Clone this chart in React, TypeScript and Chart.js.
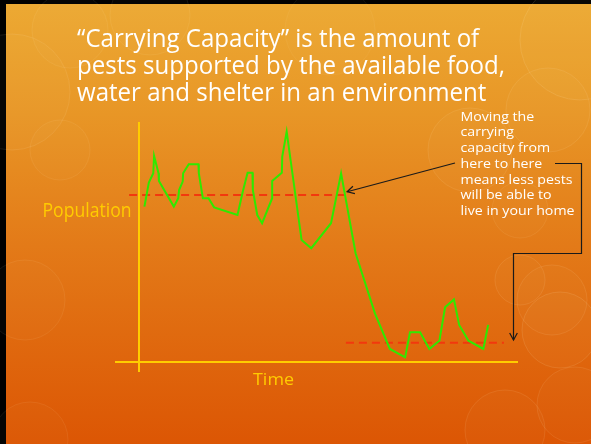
import React, { useEffect, useRef } from "react";
import { Chart, registerables } from "chart.js";

Chart.register(...registerables);

// ---- data ----
const timeValues: number[] = [
  1.3, 2.4, 3.5, 3.7, 4.8, 4.9, 8.6, 9.7, 9.9, 10.8, 10.9, 12.3, 14.7, 14.8, 15.8, 17.2, 18.6,
  24.4, 25.7, 26.9, 28.1, 28.2, 29.3, 30.5, 33.0, 33.0, 35.4, 35.5, 36.6, 40.3, 42.7, 47.6,
  50.1, 53.7, 58.5, 62.2, 66.0, 67.2, 69.7, 72.0, 74.5, 75.9, 78.1, 79.4, 81.7, 85.4, 86.6,
];
const populationValues: number[] = [
  64.8, 74.8, 78.7, 85.9, 78.7, 75.5, 64.8, 68.3, 71.7, 75.2, 78.7, 82.4, 82.4, 78.7, 68.3, 68.3, 64.5,
  61.3, 71.0, 78.9, 78.9, 71.7, 61.3, 57.9, 68.3, 75.5, 78.9, 85.6, 96.0, 50.9, 47.5, 57.9,
  78.7, 45.4, 20.4, 5.6, 2.1, 12.5, 12.5, 5.6, 9.0, 22.9, 26.2, 15.6, 9.0, 5.6, 15.6,
];
const oldCapacity = { from: -2.5, to: 51.1, level: 69.6 };
const newCapacity = { from: 51.3, to: 90.5, level: 8.2 };

const titleLines = [
  "\u201cCarrying Capacity\u201d is the amount of",
  "pests supported by the available food,",
  "water and shelter in an environment",
];
const noteLines = [
  "Moving the",
  "carrying",
  "capacity from",
  "here to here",
  "means less pests",
  "will be able to",
  "live in your home",
];
const yAxisLabel = "Population";
const xAxisLabel = "Time";
// arrow targets in data units
const arrowToOld = { x: 51.6, y: 71.0 };
const arrowToNew = { x: 92.8, y: 9.3 };

const bokeh: [number, number, number, number][] = [
  [12, 92, 58, 0.025],
  [70, 30, 38, 0.02],
  [150, 15, 40, 0.02],
  [580, 40, 60, 0.03],
  [548, 110, 42, 0.025],
  [470, 150, 42, 0.025],
  [520, 210, 28, 0.02],
  [560, 330, 38, 0.03],
  [520, 280, 25, 0.025],
  [552, 300, 35, 0.025],
  [575, 405, 38, 0.025],
  [505, 430, 40, 0.025],
  [25, 300, 40, 0.02],
  [30, 440, 38, 0.02],
  [60, 150, 30, 0.02],
  [330, 30, 45, 0.015],
];

const FONT = "'Open Sans', 'DejaVu Sans', sans-serif";

// draws text at a given font size, horizontally scaled so that the reference line reaches refWidth
function scaleFor(ctx: CanvasRenderingContext2D, refText: string, size: number, refWidth: number) {
  ctx.font = `${size}px ${FONT}`;
  return refWidth / ctx.measureText(refText).width;
}
function drawScaled(
  ctx: CanvasRenderingContext2D,
  text: string,
  x: number,
  y: number,
  size: number,
  sx: number,
  align: "left" | "right" = "left"
) {
  ctx.save();
  ctx.font = `${size}px ${FONT}`;
  ctx.textAlign = align;
  ctx.textBaseline = "alphabetic";
  ctx.translate(x, y);
  ctx.scale(sx, 1);
  ctx.fillText(text, 0, 0);
  ctx.restore();
}

function arrowHead(ctx: CanvasRenderingContext2D, x: number, y: number, ang: number, len: number) {
  ctx.beginPath();
  ctx.moveTo(x + Math.cos(ang + Math.PI - 0.5) * len, y + Math.sin(ang + Math.PI - 0.5) * len);
  ctx.lineTo(x, y);
  ctx.lineTo(x + Math.cos(ang + Math.PI + 0.5) * len, y + Math.sin(ang + Math.PI + 0.5) * len);
  ctx.stroke();
}

const slidePlugin = {
  id: "slide",
  beforeDraw(chart: any) {
    const ctx: CanvasRenderingContext2D = chart.ctx;
    const W = chart.width;
    const H = chart.height;
    ctx.save();
    ctx.fillStyle = "#000";
    ctx.fillRect(0, 0, W, H);
    const g = ctx.createLinearGradient(0, 4, 0, H);
    g.addColorStop(0, "#ECA933");
    g.addColorStop(0.25, "#E89626");
    g.addColorStop(0.55, "#E37A18");
    g.addColorStop(1, "#DC5604");
    ctx.fillStyle = g;
    ctx.fillRect(6, 4, W - 6, H - 4);
    for (const [cx, cy, r, a] of bokeh) {
      ctx.beginPath();
      ctx.arc(cx, cy, r, 0, Math.PI * 2);
      ctx.fillStyle = `rgba(255,240,200,${a})`;
      ctx.fill();
      ctx.strokeStyle = `rgba(255,240,200,${a * 4})`;
      ctx.lineWidth = 1;
      ctx.stroke();
    }
    ctx.restore();
  },
  beforeDatasetsDraw(chart: any) {
    const ctx: CanvasRenderingContext2D = chart.ctx;
    const xs = chart.scales.x;
    const ys = chart.scales.y;
    ctx.save();
    ctx.strokeStyle = "#FFCC00";
    ctx.lineWidth = 2;
    ctx.beginPath();
    const x0 = Math.round(xs.getPixelForValue(0));
    const y0 = Math.round(ys.getPixelForValue(0));
    ctx.moveTo(x0, ys.top);
    ctx.lineTo(x0, ys.bottom);
    ctx.moveTo(xs.left, y0);
    ctx.lineTo(xs.right, y0);
    ctx.stroke();
    ctx.restore();
  },
  afterDraw(chart: any) {
    const ctx: CanvasRenderingContext2D = chart.ctx;
    const xs = chart.scales.x;
    const ys = chart.scales.y;
    ctx.save();
    // title
    ctx.fillStyle = "#FFFFFF";
    const tSize = 25;
    const tsx = scaleFor(ctx, titleLines[1], tSize, 428);
    titleLines.forEach((l, i) => drawScaled(ctx, l, 77, 47 + i * 27, tSize, tsx));

    // axis labels
    ctx.fillStyle = "#FFCC00";
    const pSize = 20;
    drawScaled(ctx, yAxisLabel, 131.5, 217, pSize, scaleFor(ctx, yAxisLabel, pSize, 89), "right");
    const xSize = 17;
    drawScaled(ctx, xAxisLabel, 253, 384.5, xSize, scaleFor(ctx, xAxisLabel, xSize, 41));

    // note text
    ctx.fillStyle = "#FFFFFF";
    const nSize = 12.5;
    const nsx = scaleFor(ctx, noteLines[6], nSize, 114);
    noteLines.forEach((l, i) => drawScaled(ctx, l, 460.5, 120.7 + i * 15.7, nSize, nsx));

    // arrows
    ctx.strokeStyle = "#1a1a1a";
    ctx.lineWidth = 1.2;
    const ax = xs.getPixelForValue(arrowToOld.x);
    const ay = ys.getPixelForValue(arrowToOld.y);
    ctx.beginPath();
    ctx.moveTo(455, 163);
    ctx.lineTo(ax, ay);
    ctx.stroke();
    arrowHead(ctx, ax, ay, Math.atan2(ay - 163, ax - 455), 8);

    const bx = Math.round(xs.getPixelForValue(arrowToNew.x)) + 0.5;
    const by = ys.getPixelForValue(arrowToNew.y);
    ctx.beginPath();
    ctx.moveTo(555, 163.5);
    ctx.lineTo(581.5, 163.5);
    ctx.lineTo(581.5, 253.5);
    ctx.lineTo(bx, 253.5);
    ctx.lineTo(bx, by);
    ctx.stroke();
    arrowHead(ctx, bx, by, Math.PI / 2, 8);
    ctx.restore();
  },
};

export default function App() {
  const ref = useRef<HTMLCanvasElement | null>(null);
  useEffect(() => {
    if (!ref.current) return;
    const green = timeValues.map((t, i) => ({ x: t, y: populationValues[i] }));
    const chart = new Chart(ref.current, {
      type: "line",
      data: {
        datasets: [
          {
            data: green,
            borderColor: "#2EEA00",
            borderWidth: 2,
            pointRadius: 0,
            tension: 0,
          },
          {
            data: [
              { x: oldCapacity.from, y: oldCapacity.level },
              { x: oldCapacity.to, y: oldCapacity.level },
            ],
            borderColor: "#F2380E",
            borderWidth: 2,
            borderDash: [8, 5],
            pointRadius: 0,
          },
          {
            data: [
              { x: newCapacity.from, y: newCapacity.level },
              { x: newCapacity.to, y: newCapacity.level },
            ],
            borderColor: "#F2380E",
            borderWidth: 2,
            borderDash: [8, 5],
            pointRadius: 0,
          },
        ],
      },
      options: {
        responsive: false,
        animation: false,
        devicePixelRatio: 1,
        layout: { padding: { left: 115, right: 73, top: 122, bottom: 72 } },
        scales: {
          x: { type: "linear", min: -6, max: 94, display: false },
          y: { type: "linear", min: -4, max: 100, display: false },
        },
        plugins: { legend: { display: false }, tooltip: { enabled: false } },
      },
      plugins: [slidePlugin],
    } as any);
    return () => chart.destroy();
  }, []);
  return (
    <div style={{ position: "absolute", left: 0, top: 0, width: 591, height: 444 }}>
      <canvas ref={ref} width={591} height={444} style={{ display: "block" }} />
    </div>
  );
}
